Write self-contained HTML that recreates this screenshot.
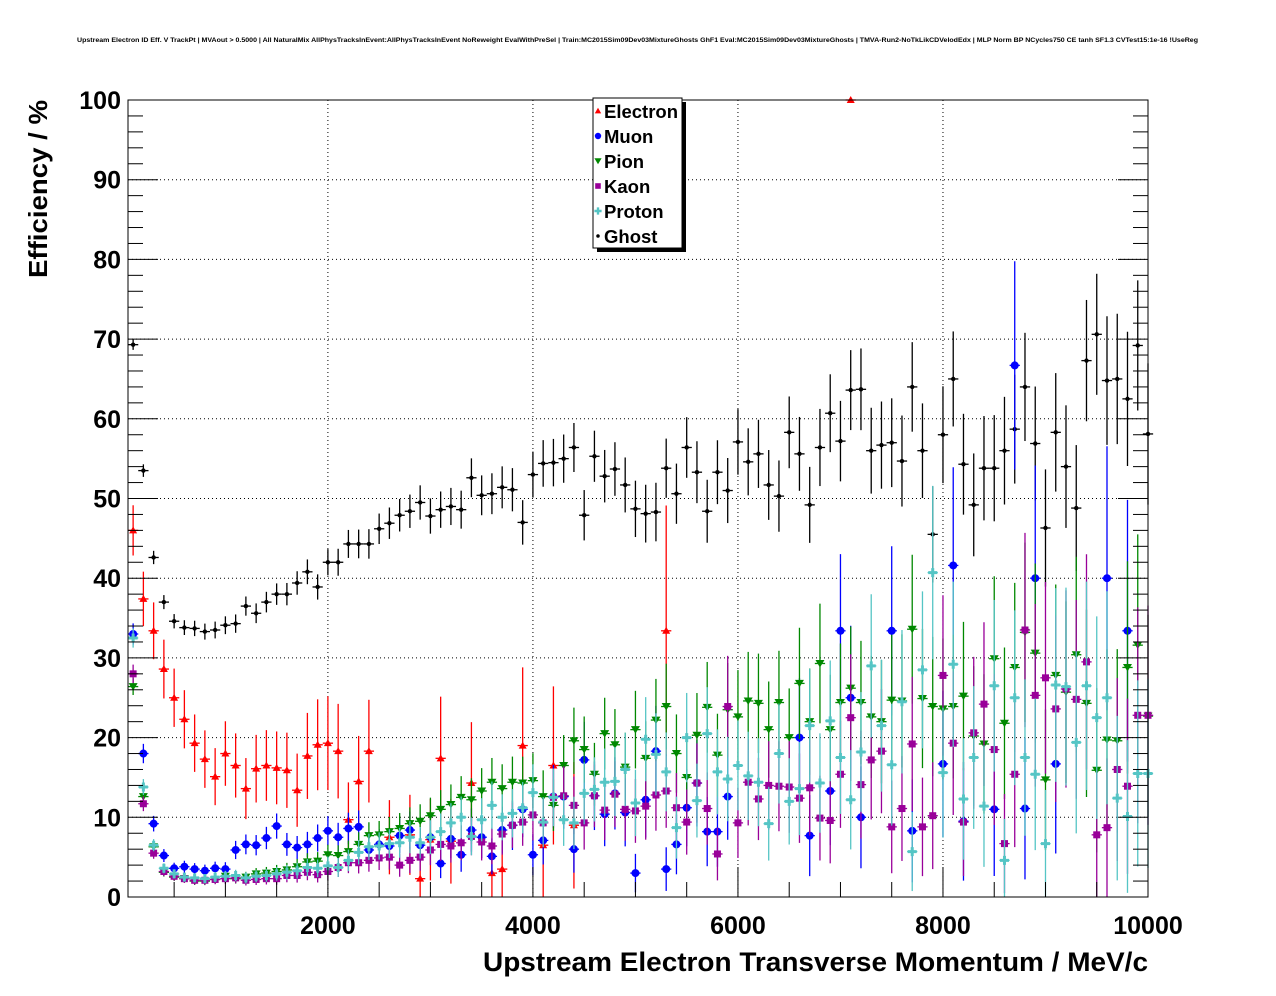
<!DOCTYPE html>
<html><head><meta charset="utf-8"><style>
body{margin:0;background:#fff;}
svg{display:block;font-family:"Liberation Sans",Arial,sans-serif;}
</style></head><body>
<svg id="chart" width="1276" height="996" viewBox="0 0 1276 996" xmlns="http://www.w3.org/2000/svg">
<rect width="1276" height="996" fill="#fff"/>
<text x="77" y="42" font-size="6.3" font-weight="bold" textLength="1121" lengthAdjust="spacingAndGlyphs">Upstream Electron ID Eff. V TrackPt | MVAout &gt; 0.5000 | All NaturalMix AllPhysTracksInEvent:AllPhysTracksInEvent NoReweight EvalWithPreSel | Train:MC2015Sim09Dev03MixtureGhosts GhF1 Eval:MC2015Sim09Dev03MixtureGhosts | TMVA-Run2-NoTkLikCDVelodEdx | MLP Norm BP NCycles750 CE tanh SF1.3 CVTest15:1e-16 !UseReg</text>
<g id="grid"></g>
<g id="marks"></g>
<rect x="128" y="100" width="1020" height="797" fill="none" stroke="#000" stroke-width="1"/>
<g id="axes"></g>
<text transform="translate(47,278) rotate(-90)" font-size="26" font-weight="bold" textLength="178" lengthAdjust="spacingAndGlyphs">Efficiency / %</text>
<text x="483" y="971" font-size="27" font-weight="bold" textLength="665" lengthAdjust="spacingAndGlyphs">Upstream Electron Transverse Momentum / MeV/c</text>
<g id="legend">
<rect x="597" y="102" width="89" height="150" fill="#000"/>
<rect x="593" y="98" width="89" height="150" fill="#fff" stroke="#000" stroke-width="1"/>
</g>
</svg>
<script>
const binCenters = [];
for (let i = 1; i <= 100; i++) binCenters.push(i * 100);
const binN = [5000,4000,3500,3000,2800,2600,2400,2200,2000,1800,
1700,1600,1500,1400,1300,1200,1100,1000,950,900,
850,800,760,720,680,640,600,570,540,510,
480,460,440,420,400,380,360,340,320,300,
290,280,270,260,250,240,230,220,210,200,
190,185,180,175,170,165,160,155,150,145,
140,135,130,125,120,115,110,105,100,96,
92,88,85,82,79,76,73,70,68,66,
64,62,60,58,56,54,52,50,48,46,
44,42,40,38,36,35,34,33,32,31];
const ghost = [69.3,53.5,42.6,37,34.6,33.8,33.7,33.3,33.5,34.1,
34.3,36.5,35.6,37,38,38,39.4,40.8,38.9,42,
42,44.3,44.3,44.3,46.2,46.9,47.9,48.4,49.5,47.8,
48.6,49,48.6,52.6,50.4,50.6,51.4,51.1,47,53,
54.4,54.5,55,56.4,47.9,55.3,52.8,53.7,51.7,48.7,
48.1,48.3,53.8,50.6,56.4,53.3,48.4,53.3,51,57.1,
54.6,55.6,51.7,50.3,58.3,55.6,49.2,56.4,60.7,57.2,
63.6,63.7,56,56.7,57,54.7,64,56,45.5,58,
65,54.3,49.2,53.8,53.8,56,58.7,64,56.9,46.3,
58.3,54,48.8,67.3,70.6,64.8,65,62.5,69.2,58.1];
const electron = [46,37.4,33.4,28.6,25,22.3,19.3,17.3,15.1,18,
16.5,13.6,16.1,16.5,16.2,15.9,13.4,17.7,19.1,19.3,
18.3,9.7,14.5,18.3,null,7.5,null,7.8,2.3,7.2,
17.4,7,null,14.3,null,3,3.5,null,19,null,
6.5,16.5,null,9,null,null,null,null,null,null,
null,null,33.4,null,null,null,null,null,null,null,
null,null,null,null,null,null,null,null,null,null,
100,null,null,null,null,null,null,null,null,null,
null,null,null,null,null,null,null,null,null,null,
null,null,null,null,null,null,null,null,null,null];
const muon = [33,18,9.2,5.2,3.6,3.8,3.5,3.3,3.6,3.5,
5.9,6.6,6.5,7.4,8.9,6.6,6.2,6.6,7.4,8.3,
7.5,8.6,8.8,5.9,6.6,6.4,7.7,8.4,6.5,7.5,
4.2,7.3,5.3,8.4,7.5,5.1,8.4,9,11,5.3,
7.1,12.6,12.6,6,17.2,12.7,10.4,13,10.6,3,
12.2,18.3,3.5,6.6,11.2,14.3,8.2,8.2,12.6,null,
null,null,null,null,null,20,7.7,null,13.3,33.4,
25,10,null,null,33.4,null,8.3,null,null,16.7,
41.6,9.5,null,null,11,null,66.7,11.1,40,null,
16.7,null,null,null,null,40,null,33.4,null,null];
const pion = [26.4,12.6,6.3,3.1,2.5,2.3,2,2,2.2,2.6,
2.3,2.5,2.9,3,3.2,3.4,3.8,4.4,4.5,5.3,
5.2,5.7,6.6,7.7,7.8,8.2,8.6,9.2,9.5,10.2,
11,11.6,12.5,12.2,13.3,14.4,13.6,14.4,14.3,14.6,
12.6,11.5,16.5,19.6,18.5,15.4,20.5,19.1,16.3,21,
17.4,22.2,23.9,18,15,20.3,23.8,17.8,23.5,22.6,
24.6,24.3,21,24.4,20,26.8,22,29.3,21,24.4,
26.2,24.4,22.6,22,24.7,24.6,33.6,24.9,23.9,23.6,
23.9,25.2,20.2,19.2,29.9,21.8,28.8,33.2,30.6,14.7,
27.8,25.7,30.4,24.3,15.9,19.7,19.6,28.8,31.6,22.7];
const kaon = [28,11.7,5.5,3.2,2.6,2.3,2.1,2.1,2.2,2.3,
2.4,2.1,2.2,2.3,2.3,2.7,2.7,3.1,2.8,3.2,
3.7,4.3,4.3,4.6,4.9,5,4,4.6,5,5.9,
6.6,6.4,6.8,7.6,6.9,6.4,7.9,9,9.4,10.3,
9.3,12.5,12.7,11.5,9.3,12.7,10.9,12.9,11,10.8,
11.4,12.8,13.3,11.2,9.4,14.3,11.1,5.4,23.9,9.3,
14.4,12.3,14,13.9,13.8,12.4,13.7,9.9,9.6,15.4,
22.5,14.1,17.2,18.3,8.8,11.1,19.2,8.8,10.2,27.8,
19.3,9.4,20.6,24.2,18.5,6.7,15.4,33.5,25.3,27.5,
23.6,26.1,24.8,29.5,7.8,8.7,16,13.9,22.8,22.8];
const proton = [32.5,13.8,6.5,3.6,2.9,2.5,2.4,2.3,2.5,2.6,
2.7,2.4,2.6,2.7,2.9,3.1,3.3,3.7,3.6,3.9,
3.7,4.6,5.6,6.3,6.4,6.7,6.8,7.5,6.8,7.5,
8.2,9.3,10,7.6,9.7,11.5,10,10.5,11.2,13.1,
9.4,12.5,9.7,9.3,13,13.5,14.4,14.5,16,11.8,
19.8,17.9,15.7,8.7,20,12.1,20.5,15.7,14.8,16.5,
15.2,14.4,9.2,18,12,13.6,21.5,14.3,22.1,17.5,
12.2,18.2,29,21.5,16.6,24.5,5.7,28.5,40.7,15.6,
29.2,12.3,17.5,11.4,26.5,4.6,25,17.5,15.4,6.7,
26.6,26.4,19.4,26.5,22.5,25,12.4,10.1,15.5,15.5];
const xTicks = [2000,4000,6000,8000,10000];
const yTicks = [0,10,20,30,40,50,60,70,80,90,100];

const NS = 'http://www.w3.org/2000/svg';
const X0 = 128, X1 = 1148, Y0 = 897, Y1 = 100;
const xMin = 50, xMax = 10000;
function xs(v){ return X0 + (v - xMin) / (xMax - xMin) * (X1 - X0); }
function ys(v){ return Y0 - v / 100 * (Y0 - Y1); }
function mk(tag, attrs, parent){
  const e = document.createElementNS(NS, tag);
  for (const k in attrs) e.setAttribute(k, attrs[k]);
  parent.appendChild(e); return e;
}
const grid = document.getElementById('grid');
const axes = document.getElementById('axes');
const marks = document.getElementById('marks');

yTicks.forEach(t => {
  const y = ys(t);
  if (t > 0 && t < 100) {
    const g = mk('line', {x1:X0, x2:X1, y1:y, y2:y, stroke:'#000', 'stroke-width':1, 'stroke-dasharray':'1,3'}, grid);
    
    
  }
  const tk = mk('line', {x1:X0, x2:X0+30, y1:y, y2:y, stroke:'#000'}, axes);
  
  
  const tk2 = mk('line', {x1:X1-30, x2:X1, y1:y, y2:y, stroke:'#000'}, axes);
  
  
  const lb = mk('text', {x:121, y:y+9, 'font-size':25, 'font-weight':'bold', 'text-anchor':'end'}, axes);
  lb.textContent = String(t);
  
  
  if (t < 100) for (let m = 2; m < 10; m += 2) {
    const ym = ys(t + m);
    const mt = mk('line', {x1:X0, x2:X0+15, y1:ym, y2:ym, stroke:'#000'}, axes);
    
    
    const mt2 = mk('line', {x1:X1-15, x2:X1, y1:ym, y2:ym, stroke:'#000'}, axes);
    
    
  }
});
xTicks.forEach(t => {
  const x = xs(t);
  if (t < 10000) {
    const g = mk('line', {x1:x, x2:x, y1:Y1, y2:Y0, stroke:'#000', 'stroke-width':1, 'stroke-dasharray':'1,3'}, grid);
    
    
  }
  const tk = mk('line', {x1:x, x2:x, y1:Y0, y2:Y0-30, stroke:'#000'}, axes);
  
  
  const lb = mk('text', {x:x, y:934, 'font-size':25, 'font-weight':'bold', 'text-anchor':'middle'}, axes);
  lb.textContent = String(t);
  
  
});
for (let v = 500; v < 10000; v += 500) {
  if (v % 2000 === 0) continue;
  const x = xs(v);
  const mt = mk('line', {x1:x, x2:x, y1:Y0, y2:Y0-15, stroke:'#000'}, axes);
  
  
}

function marker(type, color, cx, cy, parent, s){
  s = s || 1;
  if (type === 'tri') return mk('polygon', {points:`${cx},${cy-4*s} ${cx-4*s},${cy+3*s} ${cx+4*s},${cy+3*s}`, fill:color}, parent);
  if (type === 'itri') return mk('polygon', {points:`${cx},${cy+4*s} ${cx-4.5*s},${cy-3.5*s} ${cx+4.5*s},${cy-3.5*s}`, fill:color}, parent);
  if (type === 'circ') return mk('circle', {cx:cx, cy:cy, r:4*s, fill:color}, parent);
  if (type === 'sq') return mk('rect', {x:cx-3.5*s, y:cy-3.5*s, width:7*s, height:7*s, fill:color}, parent);
  if (type === 'cross') return mk('path', {d:`M${cx-1.5*s},${cy-4.5*s}h${3*s}v${3*s}h${3*s}v${3*s}h${-3*s}v${3*s}h${-3*s}v${-3*s}h${-3*s}v${-3*s}h${3*s}z`, fill:color}, parent);
  return mk('circle', {cx:cx, cy:cy, r:2.2*s, fill:color}, parent);
}
function drawSeries(name, vals, color, type, nScale){
  const g = mk('g', {}, marks);
  
  
  vals.forEach((v, i) => {
    if (v === null) return;
    const p = v / 100;
    const n = binN[i] * nScale;
    const pq = p >= 1 ? 0 : Math.max(p * (1 - p), 0.02);
    const err = Math.sqrt(pq / n) * 100;
    const cx = xs(binCenters[i]), cy = ys(v);
    const yt = ys(Math.min(100, v + err)), yb = ys(Math.max(0, v - err));
    const pt = mk('g', {}, g);
    
    
    mk('line', {x1:cx, x2:cx, y1:yt, y2:yb, stroke:color, 'stroke-width':1.3}, pt);
    mk('line', {x1:xs(binCenters[i]-50), x2:xs(binCenters[i]+50), y1:cy, y2:cy, stroke:color, 'stroke-width':1.3}, pt);
    marker(type, color, cx, cy, pt);
  });
}
drawSeries('ghost', ghost, '#000000', 'dot', 1);
drawSeries('electron', electron, '#ff0000', 'tri', 0.05);
drawSeries('muon', muon, '#0000ff', 'circ', 0.25);
drawSeries('pion', pion, '#008800', 'itri', 0.35);
drawSeries('kaon', kaon, '#990099', 'sq', 0.3);
drawSeries('proton', proton, '#55c5c5', 'cross', 0.3);

const legendNames = ['Electron','Muon','Pion','Kaon','Proton','Ghost'];
const legendColors = ['#ff0000','#0000ff','#008800','#990099','#55c5c5','#000000'];
const legendTypes = ['tri','circ','itri','sq','cross','dot'];
const leg = document.getElementById('legend');
legendNames.forEach((nm, i) => {
  const y = 111 + i * 25;
  const g = mk('g', {}, leg);
  
  
  marker(legendTypes[i], legendColors[i], 598, y, g, 0.8);
  const t = mk('text', {x:604, y:y+7, 'font-size':18.5, 'font-weight':'bold'}, g);
  t.textContent = nm;
});
</script>
</body></html>
